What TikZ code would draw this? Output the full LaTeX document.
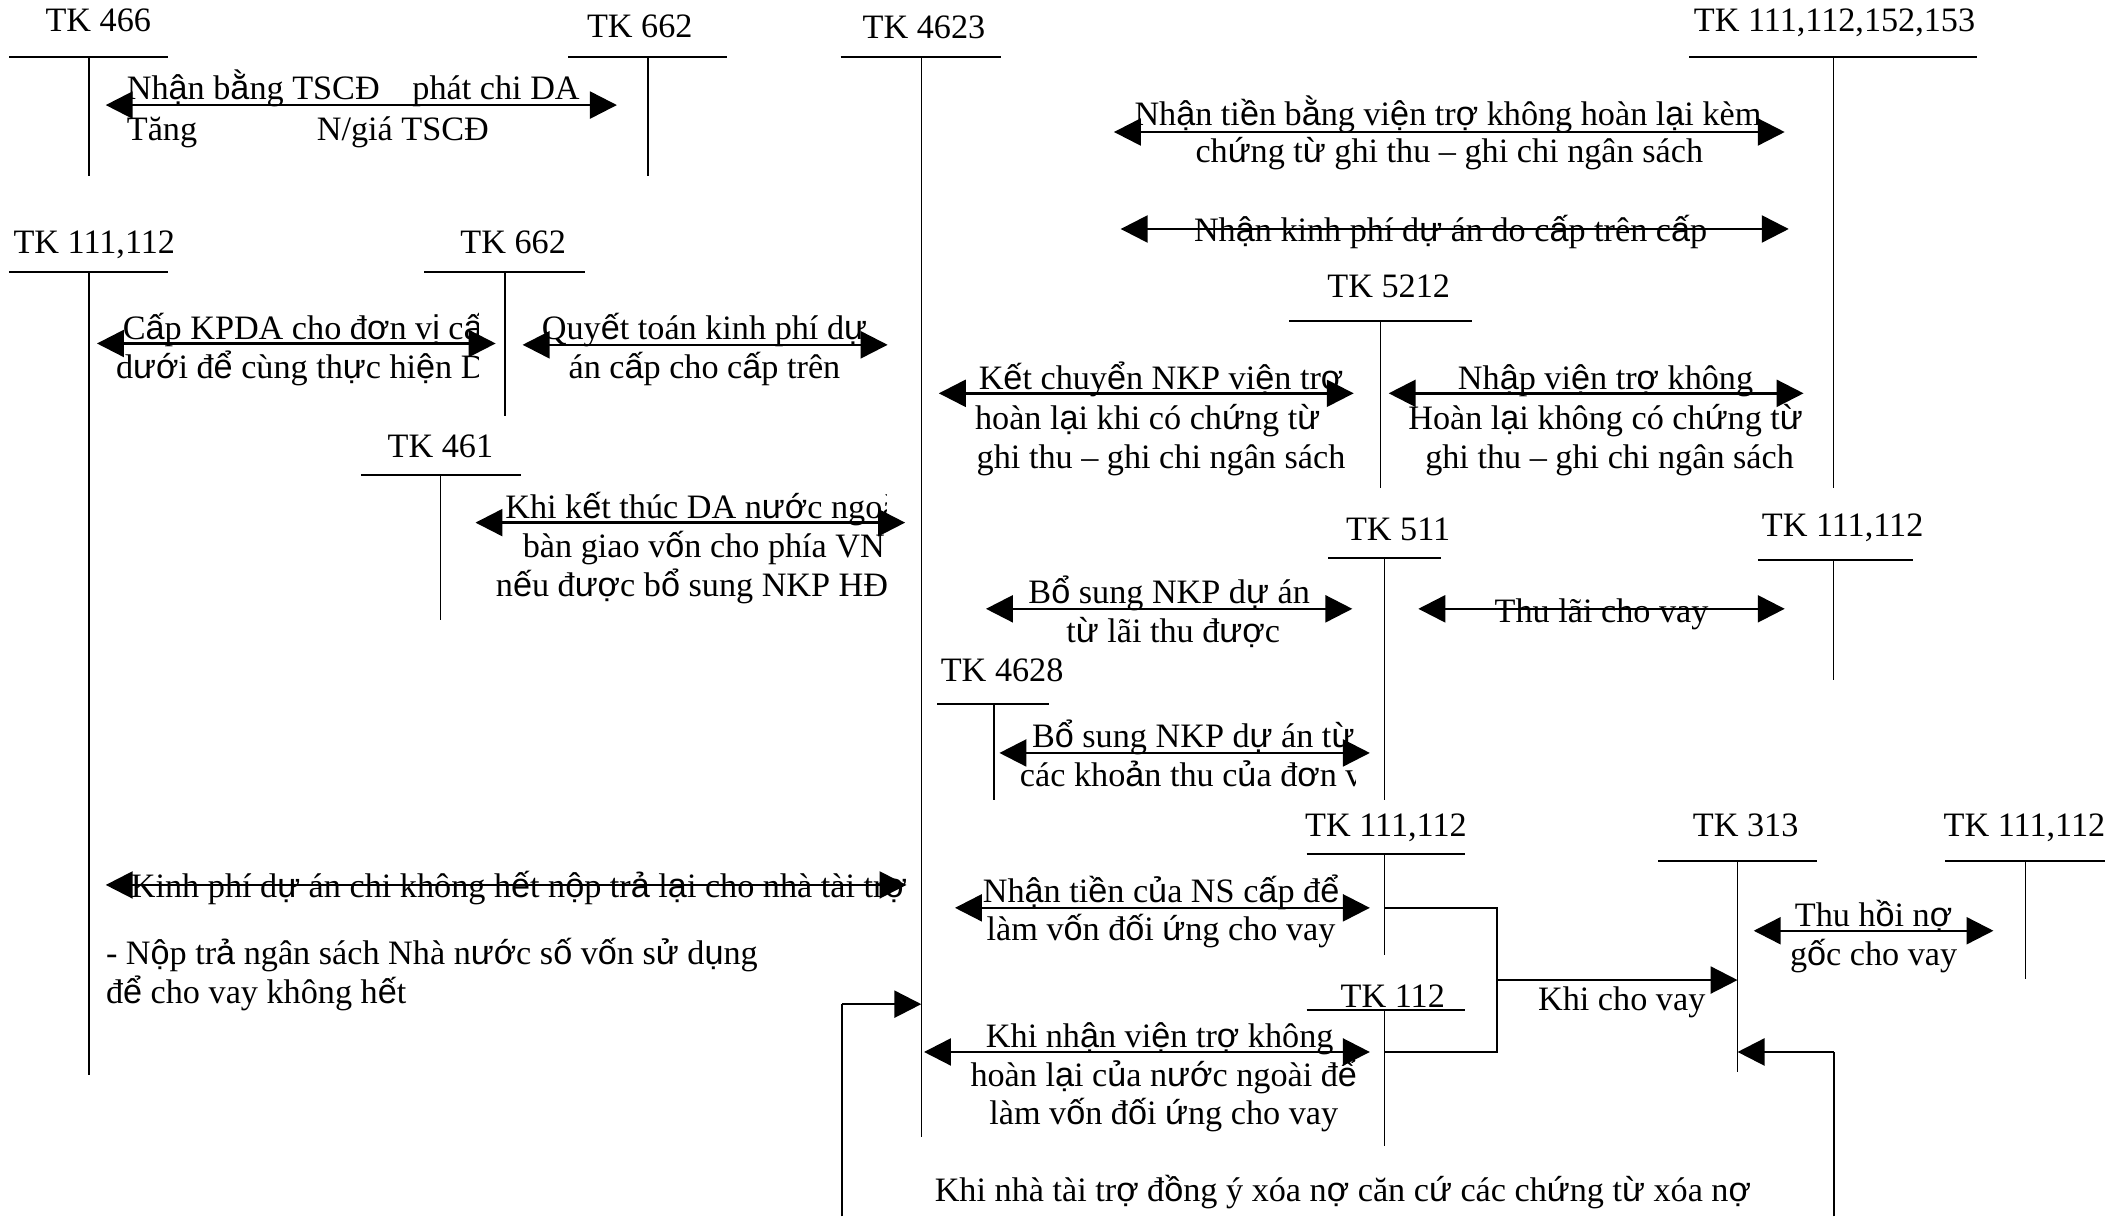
\documentclass[tikz,border=0pt]{standalone}
\usepackage{fontspec}
\setmainfont{Liberation Serif}
\newfontfamily\vnsans{Liberation Sans}
\usetikzlibrary{arrows.meta}
% Vietnamese stacked-diacritic letters fall back to a sans face, as in the reference
\XeTeXinterchartokenstate=1
\newXeTeXintercharclass\vnclass
\count255="1EA0
\loop
  \XeTeXcharclass\count255=\vnclass
  \ifnum\count255<"1EF9 \advance\count255 by 1
\repeat
\XeTeXcharclass"01A0=\vnclass
\XeTeXcharclass"01A1=\vnclass
\XeTeXcharclass"01AF=\vnclass
\XeTeXcharclass"01B0=\vnclass
\XeTeXinterchartoks 0 \vnclass = {\vnsans}
\XeTeXinterchartoks 4095 \vnclass = {\vnsans}
\XeTeXinterchartoks \vnclass 0 = {\rmfamily}
\XeTeXinterchartoks \vnclass 4095 = {\rmfamily}
\newcommand\dgfs{\fontsize{25.4}{29.5}\selectfont}
\tikzset{
  lbl/.style={font=\dgfs, inner sep=0pt, anchor=base},
  lbll/.style={lbl, anchor=base west},
  bar/.style={line width=1.5pt},
  stem/.style={line width=1.0pt},
  tip/.tip={Triangle[length=20pt,width=20pt]},
  dbl/.style={line width=1.8pt, tip-tip},
  sgl/.style={line width=1.8pt, -tip},
  conn/.style={line width=1.3pt},
}
% T-account: name, label, label x, label baseline y, bar x1, bar x2, bar y, stem x, stem bottom y
\newcommand\TAcct[9]{%
  \node[lbl] (#1) at (#3,#4) {#2};
  \coordinate (#1-bl) at (#5,#7);
  \coordinate (#1-br) at (#6,#7);
  \coordinate (#1-top) at (#8,#7);
  \coordinate (#1-bot) at (#8,#9);
  \draw[bar] (#1-bl) -- (#1-br);
  \draw[stem] (#1-top) -- (#1-bot);
}
\begin{document}
\begin{tikzpicture}[x=1pt,y=-1pt]
\useasboundingbox (0,0) rectangle (1568,903);

% ---- T accounts ----
\TAcct{A}{TK 466}{73}{23.5}{7}{125}{42}{66}{131}
\TAcct{B}{TK 662}{475}{28}{422}{540}{42}{481}{131}
\TAcct{C}{TK 4623}{686}{28.5}{624}{743}{42}{684}{844}
\TAcct{D}{TK 111,112,152,153}{1362}{23.5}{1254}{1468}{42}{1361}{362}
\TAcct{E}{TK 111,112}{70}{188}{6.5}{125}{202}{66}{798}
\TAcct{F}{TK 662}{381}{188}{315}{434}{202}{375}{309}
\TAcct{H}{TK 461}{327}{340}{268}{387}{353}{327}{460}
\TAcct{G}{TK 5212}{1031}{221}{957}{1093}{238}{1025}{362}
\TAcct{I}{TK 511}{1038}{401}{986}{1070}{414}{1028}{594}
\TAcct{J}{TK 111,112}{1368}{398}{1305}{1420}{416}{1361}{505}
\TAcct{K}{TK 4628}{744}{506}{696}{779}{523}{738}{594}
\TAcct{L}{TK 111,112}{1029}{621}{970}{1088}{634}{1028}{709}
\TAcct{M}{TK 313}{1296}{621}{1231}{1349}{639}{1290}{796}
\TAcct{N}{TK 111,112}{1503}{621}{1444}{1563}{639}{1504}{727}
\TAcct{O}{TK 112}{1034}{748}{970}{1088}{750}{1028}{851}

% ---- arrow 1 ----
\coordinate (a1l) at (78.5,78); \coordinate (a1r) at (458,78);
\draw[dbl] (a1l) -- (a1r);
\node[lbll] (t1a) at (94,74) {Nhận bằng TSCĐ};
\node[lbll] (t1b) at (306,74) {phát chi DA};
\node[lbll] (t1c) at (94,104) {Tăng};
\node[lbll] (t1d) at (235,104) {N/giá TSCĐ};

% ---- arrow 2 ----
\coordinate (a2l) at (827,98); \coordinate (a2r) at (1325,98);
\draw[dbl] (a2l) -- (a2r);
\node[lbl] (t2a) at (1075,93) {Nhận tiền bằng viện trợ không hoàn lại kèm};
\node[lbl] (t2b) at (1076,121) {chứng từ ghi thu – ghi chi ngân sách};

% ---- arrow 3 ----
\coordinate (a3l) at (832,170); \coordinate (a3r) at (1328,170);
\draw[dbl] (a3l) -- (a3r);
\node[lbl] (t3a) at (1077,179) {Nhận kinh phí dự án do cấp trên cấp};

% ---- arrow 4 (clipped text) ----
\coordinate (a4l) at (72,255); \coordinate (a4r) at (368,255);
\begin{scope}
\clip (0,0) rectangle (355,903);
\node[lbll] (t4a) at (91,252) {Cấp KPDA cho đơn vị cấp};
\node[lbll] (t4b) at (86,281) {dưới để cùng thực hiện DA};
\end{scope}
\draw[dbl] (a4l) -- (a4r);

% ---- arrow 5 ----
\coordinate (a5l) at (388,256); \coordinate (a5r) at (659,256);
\draw[dbl] (a5l) -- (a5r);
\node[lbl] (t5a) at (523,252) {Quyết toán kinh phí dự};
\node[lbl] (t5b) at (523,281) {án cấp cho cấp trên};

% ---- arrow 6 ----
\coordinate (a6l) at (697,292); \coordinate (a6r) at (1005,292);
\draw[dbl] (a6l) -- (a6r);
\node[lbl] (t6a) at (862,289) {Kết chuyển NKP viện trợ};
\node[lbl] (t6b) at (852,319) {hoàn lại khi có chứng từ};
\node[lbl] (t6c) at (862,348) {ghi thu – ghi chi ngân sách};

% ---- arrow 7 ----
\coordinate (a7l) at (1031,292); \coordinate (a7r) at (1339,292);
\draw[dbl] (a7l) -- (a7r);
\node[lbl] (t7a) at (1192,289) {Nhập viện trợ không};
\node[lbl] (t7b) at (1192,319) {Hoàn lại không có chứng từ};
\node[lbl] (t7c) at (1195,348) {ghi thu – ghi chi ngân sách};

% ---- arrow 8 (clipped text) ----
\coordinate (a8l) at (353,388); \coordinate (a8r) at (672,388);
\begin{scope}
\clip (0,0) rectangle (658,903);
\node[lbll] (t8a) at (375,385) {Khi kết thúc DA nước ngoài};
\node[lbll] (t8b) at (388,414) {bàn giao vốn cho phía VN};
\node[lbll] (t8c) at (368,443) {nếu được bổ sung NKP HĐ};
\end{scope}
\draw[dbl] (a8l) -- (a8r);

% ---- arrow 9 ----
\coordinate (a9l) at (732,452); \coordinate (a9r) at (1004,452);
\draw[dbl] (a9l) -- (a9r);
\node[lbl] (t9a) at (868,448) {Bổ sung NKP dự án};
\node[lbl] (t9b) at (871,477) {từ lãi thu được};

% ---- arrow 10 ----
\coordinate (a10l) at (1053,452); \coordinate (a10r) at (1325,452);
\draw[dbl] (a10l) -- (a10r);
\node[lbl] (t10a) at (1189,462) {Thu lãi cho vay};

% ---- arrow 11 (clipped text) ----
\coordinate (a11l) at (742,559); \coordinate (a11r) at (1017,559);
\begin{scope}
\clip (0,0) rectangle (1006,903);
\node[lbll] (t11a) at (766,555) {Bổ sung NKP dự án từ};
\node[lbll] (t11b) at (757,584) {các khoản thu của đơn vị};
\end{scope}
\draw[dbl] (a11l) -- (a11r);

% ---- arrow 12 ----
\coordinate (a12l) at (78.5,657); \coordinate (a12r) at (673,657);
\draw[dbl] (a12l) -- (a12r);
\node[lbll] (t12a) at (97,666) {Kinh phí dự án chi không hết nộp trả lại cho nhà tài trợ};
\node[lbll] (t12b) at (78.5,716) {- Nộp trả ngân sách Nhà nước số vốn sử dụng};
\node[lbll] (t12c) at (78.5,745) {để cho vay không hết};

% ---- arrow 13 ----
\coordinate (a13l) at (709,674); \coordinate (a13r) at (1017,674);
\draw[dbl] (a13l) -- (a13r);
\node[lbl] (t13a) at (862,670) {Nhận tiền của NS cấp để};
\node[lbl] (t13b) at (862,698) {làm vốn đối ứng cho vay};

% ---- arrow 14 ----
\coordinate (a14l) at (686,781); \coordinate (a14r) at (1017,781);
\draw[dbl] (a14l) -- (a14r);
\node[lbl] (t14a) at (861,778) {Khi nhận viện trợ không};
\node[lbl] (t14b) at (864,807) {hoàn lại của nước ngoài để};
\node[lbl] (t14c) at (864,835) {làm vốn đối ứng cho vay};

% ---- arrow 15 ----
\coordinate (a15l) at (1302,691); \coordinate (a15r) at (1480,691);
\draw[dbl] (a15l) -- (a15r);
\node[lbl] (t15a) at (1391,688) {Thu hồi nợ};
\node[lbl] (t15b) at (1391,717) {gốc cho vay};

% ---- loan connectors ----
\coordinate (jL) at (1028,674);
\coordinate (jO) at (1028,781);
\coordinate (j1) at (1111.5,674);
\coordinate (j2) at (1111.5,781);
\coordinate (jm) at (1111.5,727.6);
\coordinate (jt) at (1290,727.6);
\draw[conn] (jL) -- (j1) -- (j2) -- (jO);
\draw[sgl] (jm) -- (jt);
\node[lbl] (t16) at (1204,750) {Khi cho vay};

% ---- debt write-off ----
\coordinate (b1) at (625,903);
\coordinate (b2) at (625,745.5);
\coordinate (b3) at (684,745.5);
\coordinate (c1) at (1361.5,903);
\coordinate (c2) at (1361.5,781);
\coordinate (c3) at (1290,781);
\draw[conn] (b1) -- (b2);
\draw[sgl] (b2) -- (b3);
\draw[conn] (c1) -- (c2);
\draw[sgl] (c2) -- (c3);
\node[lbl] (t17) at (997,892) {Khi nhà tài trợ đồng ý xóa nợ căn cứ các chứng từ xóa nợ};
\end{tikzpicture}
\end{document}
